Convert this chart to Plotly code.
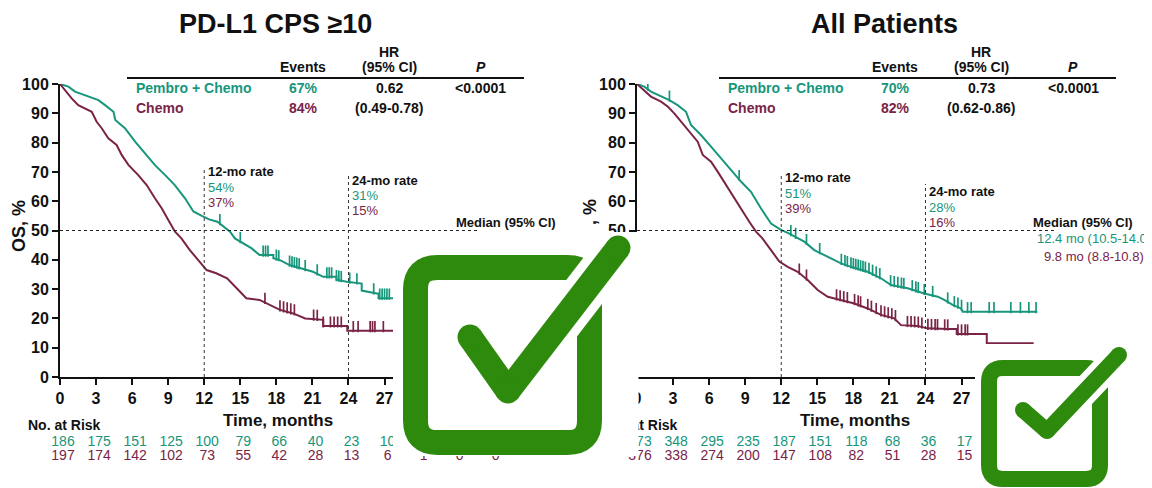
import numpy as np
import plotly.graph_objects as go

# The page body has an 8 px margin; the figure is sized to fill the rest of the window and
# all layout positions below are given in window pixels.
OFF = 8
W, H = 1152 - OFF, 488 - OFF
FONT = "Liberation Sans, Arial, sans-serif"
TEAL = "#17967b"
MAROON = "#7a2347"
GREEN = "#2e8a0c"
BLACK = "#111111"

# ---------------- data ----------------
months_ticks = list(range(0, 37, 3))
y_ticks = list(range(0, 101, 10))

# CPS >= 10
cps_pembro_t = [0, 0.7, 1.25, 2.35, 3.2, 3.75, 4.45, 4.6, 5.4, 6.25, 7.05, 7.9, 8.75, 9.55, 10.4, 11.1, 11.8,
                12.4, 13.1, 13.6, 14.15, 14.55, 15.25, 15.95, 16.6, 17.75, 17.75, 18.3, 19.1, 20.0, 21.05, 21.9,
                23.0, 23.0, 23.85, 25.1, 25.1, 26.35, 26.5, 26.5, 32.0]
cps_pembro_s = [100, 99.1, 97.4, 95.7, 94.5, 92.8, 90.5, 87.7, 84.9, 80.3, 76.3, 72.3, 68.9, 65.5, 61.0, 56.5, 55.0,
                53.8, 53.0, 51.3, 49.6, 47.3, 45.6, 43.9, 41.6, 41.6, 40.5, 39.9, 38.2, 37.1, 35.9, 34.2,
                34.2, 33.2, 32.5, 31.9, 29.5, 28.5, 28.5, 26.9, 26.9]
cps_chemo_t = [0, 0.42, 0.97, 1.52, 2.08, 2.64, 3.05, 3.47, 4.02, 4.71, 5.13, 5.69, 6.51, 7.21, 7.9, 8.46, 9.01,
               9.57, 10.1, 10.8, 11.5, 12.2, 13.0, 13.9, 14.7, 15.5, 16.6, 17.5, 18.3, 19.4, 20.4, 21.9, 21.9,
               23.9, 23.9, 31.0]
cps_chemo_s = [100, 97.9, 95.1, 92.8, 91.7, 90.5, 87.1, 84.9, 81.5, 79.2, 75.8, 72.4, 68.9, 65.5, 61.0, 57.6, 53.6,
               49.6, 47.3, 43.3, 39.9, 36.5, 35.4, 33.7, 30.3, 26.9, 26.3, 24.6, 22.9, 21.7, 20.0, 19.5, 17.4,
               17.4, 15.8, 15.8]
cps_pembro_cens = [13.3, 15.0, 16.9, 17.1, 17.3, 18.0, 18.2, 19.1, 19.3, 19.5, 19.7, 19.9, 20.4, 21.4, 22.2, 22.4,
                   22.6, 23.0, 23.2, 23.4, 24.1, 24.7, 26.1, 26.6, 26.8, 27.0, 27.2, 27.4]
cps_chemo_cens = [17.05, 18.3, 18.6, 18.9, 19.2, 19.5, 21.1, 21.4, 21.9, 22.5, 22.8, 23.1, 23.4, 24.4, 24.8, 25.8,
                  26.0, 26.2, 26.9]
cps_risk_pembro = ["186", "175", "151", "125", "100", "79", "66", "40", "23", "10", "2", "0", "0"]
cps_risk_chemo = ["197", "174", "142", "102", "73", "55", "42", "28", "13", "6", "1", "0", "0"]

# All patients
all_pembro_t = [0, 0.61, 1.16, 2.0, 2.69, 3.38, 4.08, 4.49, 5.32, 6.16, 6.99, 7.82, 8.65, 9.48, 10.32, 11.15, 11.98,
                12.54, 13.09, 13.92, 14.75, 15.87, 16.97, 17.8, 19.19, 20.3, 21.13, 22.52, 23.9, 25.02, 25.57,
                26.26, 26.96, 27.1, 33.3]
all_pembro_s = [100, 99.1, 97.4, 95.7, 94.5, 92.8, 90.5, 86.0, 82.6, 78.6, 74.6, 70.6, 66.7, 63.2, 57.5, 52.4, 50.2,
                49.2, 47.9, 46.2, 43.3, 41.1, 38.8, 37.6, 35.9, 33.7, 31.4, 30.3, 28.5, 27.4, 26.3,
                24.6, 23.4, 22.3, 22.3]
all_chemo_t = [0, 0.61, 1.16, 2.0, 2.55, 3.1, 3.66, 4.35, 5.05, 5.47, 6.16, 6.71, 7.4, 8.1, 8.79, 9.34, 9.9, 10.4,
               11.15, 11.84, 12.54, 13.37, 14.2, 15.03, 15.87, 16.97, 18.08, 19.19, 20.3, 21.4, 21.96, 23.35,
               24.18, 25.85, 26.6, 26.6, 29.1, 29.1, 33.0]
all_chemo_s = [100, 97.9, 95.7, 94.0, 92.3, 90.0, 87.1, 83.7, 80.3, 75.8, 73.5, 70.1, 65.5, 61.0, 56.4, 53.0, 49.6,
               47.5, 43.3, 39.4, 37.6, 35.9, 33.1, 29.7, 27.4, 26.3, 25.1, 23.4, 21.2, 20.0, 17.7, 17.4,
               16.6, 16.4, 16.4, 14.7, 14.7, 11.5, 11.5]
all_pembro_cens = [0.9, 2.7, 8.5, 12.8, 13.2, 14.1, 15.2, 17.0, 17.3, 17.5, 17.8, 18.0, 18.2, 18.4, 18.6, 18.8, 19.0,
                   19.3, 19.6, 19.9, 20.2, 21.1, 21.4, 21.7, 22.0, 22.2, 22.9, 23.2, 23.4, 23.9, 24.6, 25.85,
                   26.4, 26.7, 27.0, 27.5, 27.8, 29.3, 29.7, 31.1, 31.9, 32.6, 33.2]
all_chemo_cens = [13.5, 14.1, 16.6, 16.9, 17.2, 17.5, 18.1, 18.4, 18.6, 19.2, 19.5, 19.9, 20.3, 20.6, 20.9, 21.2,
                  21.5, 22.5, 22.8, 23.1, 23.4, 23.7, 24.2, 24.5, 24.8, 25.0, 25.6, 25.85, 26.7, 27.0, 27.3, 27.5]
all_risk_pembro = ["373", "348", "295", "235", "187", "151", "118", "68", "36", "17"]
all_risk_chemo = ["376", "338", "274", "200", "147", "108", "82", "51", "28", "15"]


# ---------------- geometry helpers (window pixels -> paper) ----------------
def PX(x):
    return (x - OFF) / W


def PY(y):
    return 1 - (y - OFF) / H


X0L, X0R = 60, 637        # window pixel of month 0
PPM = 12.02               # pixels per month
YB, YT = 377, 84          # window pixel of 0% and 100%
XMAX = 36
PPP = (YB - YT) / 100.0   # pixels per percent

fig = go.Figure()


def add_km(t, s, cens, color, xa, ya):
    fig.add_trace(go.Scatter(x=t, y=s, mode="lines", line=dict(color=color, width=2),
                             xaxis=xa, yaxis=ya, hoverinfo="skip"))
    cy = np.interp(cens, t, s) + 4.0 / PPP
    fig.add_trace(go.Scatter(x=cens, y=cy, mode="markers",
                             marker=dict(symbol="line-ns", size=8, line=dict(color=color, width=1.7)),
                             xaxis=xa, yaxis=ya, hoverinfo="skip"))


add_km(cps_pembro_t, cps_pembro_s, cps_pembro_cens, TEAL, "x", "y")
add_km(cps_chemo_t, cps_chemo_s, cps_chemo_cens, MAROON, "x", "y")
add_km(all_pembro_t, all_pembro_s, all_pembro_cens, TEAL, "x2", "y2")
add_km(all_chemo_t, all_chemo_s, all_chemo_cens, MAROON, "x2", "y2")


# at-risk table: text traces on a full-figure pixel overlay so that the icons can cover them
def add_risk(x0, vals_p, vals_c):
    xs_p = [x0 + m * PPM + 3 for m in months_ticks[:len(vals_p)]]
    xs_c = [x0 + m * PPM + 3 for m in months_ticks[:len(vals_c)]]
    fig.add_trace(go.Scatter(x=xs_p, y=[442] * len(xs_p), mode="text", text=vals_p,
                             textposition="middle center",
                             textfont=dict(family=FONT, size=14, color=TEAL),
                             xaxis="x3", yaxis="y3", hoverinfo="skip"))
    fig.add_trace(go.Scatter(x=xs_c, y=[456] * len(xs_c), mode="text", text=vals_c,
                             textposition="middle center",
                             textfont=dict(family=FONT, size=14, color=MAROON),
                             xaxis="x3", yaxis="y3", hoverinfo="skip"))
    fig.add_trace(go.Scatter(x=[x0 - 32], y=[426], mode="text", text=["No. at Risk"],
                             textposition="middle right",
                             textfont=dict(family=FONT, size=14, color=BLACK, weight="bold"),
                             xaxis="x3", yaxis="y3", hoverinfo="skip"))


add_risk(X0L, cps_risk_pembro, cps_risk_chemo)
add_risk(X0R, all_risk_pembro, all_risk_chemo)

xcommon = dict(range=[0, XMAX], tickmode="array", tickvals=months_ticks, ticks="outside", ticklen=6,
               tickwidth=2, tickcolor=BLACK, showline=True, linewidth=2, linecolor=BLACK, showgrid=False,
               zeroline=False, tickfont=dict(family=FONT, size=16, color=BLACK, weight="bold"), fixedrange=True,
               automargin=False)
ycommon = dict(range=[0, 100], tickmode="array", tickvals=y_ticks, ticks="outside", ticklen=6,
               tickwidth=2, tickcolor=BLACK, showline=True, linewidth=2, linecolor=BLACK, showgrid=False,
               zeroline=False, tickfont=dict(family=FONT, size=16, color=BLACK, weight="bold"), fixedrange=True,
               automargin=False)

fig.update_layout(
    width=W, height=H, margin=dict(l=0, r=0, t=0, b=0, pad=0, autoexpand=False),
    paper_bgcolor="white", plot_bgcolor="rgba(0,0,0,0)", showlegend=False,
    xaxis=dict(domain=[PX(X0L), PX(X0L + XMAX * PPM)], anchor="y", **xcommon),
    yaxis=dict(domain=[PY(YB), PY(YT)], anchor="x", **ycommon),
    xaxis2=dict(domain=[PX(X0R), PX(X0R + XMAX * PPM)], anchor="y2", **xcommon),
    yaxis2=dict(domain=[PY(YB), PY(YT)], anchor="x2", **ycommon),
    xaxis3=dict(domain=[0, 1], range=[OFF, OFF + W], visible=False, fixedrange=True, anchor="y3",
                automargin=False),
    yaxis3=dict(domain=[0, 1], range=[OFF + H, OFF], visible=False, fixedrange=True, anchor="x3",
                automargin=False),
)

shapes = []
annots = []


def txt(x, y, s, size=14, color=BLACK, bold=True, xanchor="center", angle=0, italic=False):
    annots.append(dict(x=PX(x), y=PY(y), xref="paper", yref="paper", text=s, showarrow=False,
                       xanchor=xanchor, yanchor="middle", textangle=angle,
                       font=dict(family=FONT, size=size, color=color, weight="bold" if bold else "normal",
                                 style="italic" if italic else "normal")))


def panel(x0, tx, title, title_cx, events, hr, ci, p, r12, r24, median_vals):
    txt(title_cx, 24, title, size=27)
    txt(tx + 169, 67, "Events", size=14)
    txt(tx + 255, 52, "HR", size=14)
    txt(tx + 255, 67, "(95% CI)", size=14)
    txt(tx + 347, 67, "P", size=14, italic=True)
    shapes.append(dict(type="line", xref="paper", yref="paper", x0=PX(tx - 7), x1=PX(tx + 390),
                       y0=PY(78), y1=PY(78), line=dict(color=BLACK, width=2)))
    txt(tx, 88, "Pembro + Chemo", size=14, color=TEAL, xanchor="left")
    txt(tx, 108, "Chemo", size=14, color=MAROON, xanchor="left")
    txt(tx + 169, 88, events[0], size=14, color=TEAL)
    txt(tx + 169, 108, events[1], size=14, color=MAROON)
    txt(tx + 255, 88, hr, size=14)
    txt(tx + 255, 108, ci, size=14)
    txt(tx + 347, 88, p, size=14)
    txt(x0 + 218, 420, "Time, months", size=17)
    xa = "x" if x0 == X0L else "x2"
    for m, top, (ylab, lab, vals) in [(12, r12[0] - 3, r12), (24, r24[0] - 7, r24)]:
        shapes.append(dict(type="line", xref=xa, yref="paper", x0=m, x1=m, y0=PY(YB), y1=PY(top),
                           line=dict(color="#333333", width=1, dash="dot")))
        xl = x0 + m * PPM + 2
        txt(xl, ylab, lab, size=13, xanchor="left")
        txt(xl, ylab + 16, vals[0], size=13, color=TEAL, bold=False, xanchor="left")
        txt(xl, ylab + 31, vals[1], size=13, color=MAROON, bold=False, xanchor="left")
    shapes.append(dict(type="line", xref="paper", yref="y" if x0 == X0L else "y2", x0=PX(x0), x1=PX(x0 + 417),
                       y0=50, y1=50, line=dict(color="#222222", width=1.2, dash="dot")))
    txt(x0 + 498, 222, "Median (95% CI)", size=13, xanchor="right")
    if median_vals:
        txt(x0 + 457, 238, median_vals[0], size=13, color=TEAL, bold=False)
        txt(x0 + 457, 256, median_vals[1], size=13, color=MAROON, bold=False)


panel(X0L, 134, "PD-L1 CPS ≥10", 275, ("67%", "84%"), "0.62", "(0.49-0.78)", "<0.0001",
      (171, "12-mo rate", ("54%", "37%")), (180, "24-mo rate", ("31%", "15%")), None)
panel(X0R, 726, "All Patients", 884, ("70%", "82%"), "0.73", "(0.62-0.86)", "<0.0001",
      (177, "12-mo rate", ("51%", "39%")), (191, "24-mo rate", ("28%", "16%")),
      ("12.4 mo (10.5-14.0)", "9.8 mo (8.8-10.8)"))

# y-axis titles (the right one is mostly hidden by the pasted icon; only its top part shows)
txt(19, 226, "OS, %", size=18, angle=-90)
txt(X0R - 47, 212, ", %", size=18, angle=-90)


# ---------------- check-box icons ----------------
def P(x, y):
    return f"{PX(x):.5f},{PY(y):.5f}"


def rrect(x0, y0, x1, y1, r):
    return (f"M {P(x0 + r, y0)} L {P(x1 - r, y0)} Q {P(x1, y0)} {P(x1, y0 + r)} "
            f"L {P(x1, y1 - r)} Q {P(x1, y1)} {P(x1 - r, y1)} L {P(x0 + r, y1)} "
            f"Q {P(x0, y1)} {P(x0, y1 - r)} L {P(x0, y0 + r)} Q {P(x0, y0)} {P(x0 + r, y0)} Z")


def icon(bg, box, sw, radius, a, v, b, gap):
    shapes.append(dict(type="rect", xref="paper", yref="paper", x0=PX(bg[0]), x1=PX(bg[2]),
                       y0=PY(bg[1]), y1=PY(bg[3]), fillcolor="white", line=dict(width=0), layer="above"))
    half = sw / 2
    shapes.append(dict(type="path", xref="paper", yref="paper",
                       path=rrect(box[0] + half, box[1] + half, box[2] - half, box[3] - half, radius),
                       line=dict(color=GREEN, width=sw), fillcolor="rgba(0,0,0,0)", layer="above"))
    shapes.append(dict(type="line", xref="paper", yref="paper", x0=PX(v[0]), y0=PY(v[1]), x1=PX(b[0]),
                       y1=PY(b[1]), line=dict(color="white", width=sw + 2 * gap), layer="above"))
    for (p0, p1) in [(a, v), (v, b)]:
        shapes.append(dict(type="line", xref="paper", yref="paper", x0=PX(p0[0]), y0=PY(p0[1]), x1=PX(p1[0]),
                           y1=PY(p1[1]), line=dict(color=GREEN, width=sw), layer="above"))
    for c in (a, v, b):
        shapes.append(dict(type="circle", xref="paper", yref="paper", x0=PX(c[0] - half), x1=PX(c[0] + half),
                           y0=PY(c[1] - half), y1=PY(c[1] + half), fillcolor=GREEN, line=dict(width=0),
                           layer="above"))


icon((393, 232, 638.5, 456), (403, 255, 602, 455), 25, 22, (470, 337), (508, 391), (618, 248), 9)
icon((975, 344, 1160, 496), (981, 360, 1108, 487), 16, 14, (1023, 410), (1047, 431), (1119, 355), 6)

fig.update_layout(shapes=shapes, annotations=annots)
fig.write_html("out.html")
